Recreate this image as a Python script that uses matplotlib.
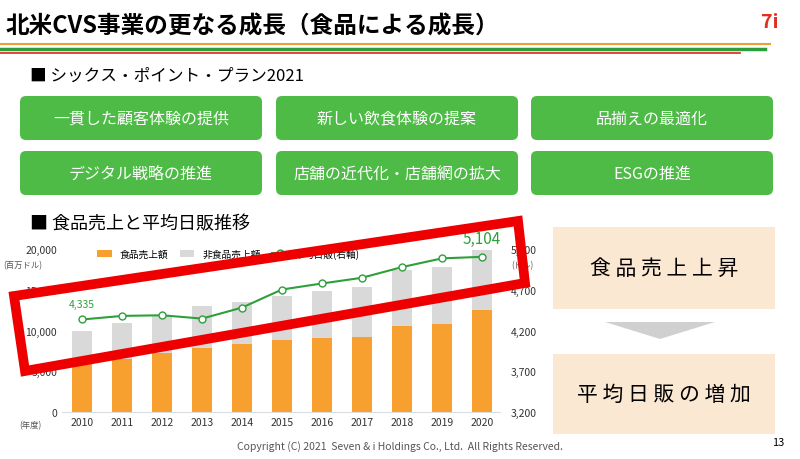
import matplotlib.pyplot as plt
from matplotlib.patches import FancyBboxPatch, Polygon, Rectangle

plt.rcParams["font.family"] = ["Noto Sans CJK JP", "DejaVu Sans"]

years = ["2010", "2011", "2012", "2013", "2014", "2015", "2016", "2017", "2018", "2019", "2020"]
food_sales = [5900, 6500, 7200, 7800, 8300, 8800, 9100, 9200, 10550, 10800, 12550]
nonfood_sales = [4100, 4400, 4600, 5200, 5200, 5450, 5800, 6100, 6850, 7000, 7350]
daily_sales = [4335, 4379, 4387, 4346, 4481, 4703, 4777, 4847, 4978, 5085, 5104]

plan_items = ["一貫した顧客体験の提供", "新しい飲食体験の提案", "品揃えの最適化",
              "デジタル戦略の推進", "店舗の近代化・店舗網の拡大", "ESGの推進"]

W, H = 800, 460
fig = plt.figure(figsize=(8, 4.6), dpi=100)
fig.patch.set_facecolor("white")

# slide overlay in pixel coords
bg = fig.add_axes([0, 0, 1, 1])
bg.set_xlim(0, W)
bg.set_ylim(H, 0)
bg.axis("off")

bg.text(6, 27, "北米CVS事業の更なる成長（食品による成長）", fontsize=17, fontweight="bold", va="center")
bg.plot([0, 770], [45, 45], color="#f0a030", lw=1.5)
bg.plot([0, 765], [50, 50], color="#2e9e3a", lw=2.5)
bg.plot([0, 740], [54, 54], color="#e02020", lw=1.2)
bg.text(770, 22, "7i", fontsize=14, fontweight="bold", color="#e03020", ha="center", va="center")

bg.text(30, 76, "■ シックス・ポイント・プラン2021", fontsize=12, va="center")
cols = [20, 276, 531]
rows = [97, 152]
for i, item in enumerate(plan_items):
    x = cols[i % 3]
    y = rows[i // 3]
    bg.add_patch(FancyBboxPatch((x, y), 242, 44, boxstyle="round,pad=0,rounding_size=6",
                                fc="#4dbb45", ec="none"))
    bg.text(x + 121, y + 22, item, color="white", fontsize=11.5, ha="center", va="center")

bg.text(30, 224, "■ 食品売上と平均日販推移", fontsize=13, va="center")

# right side boxes
bg.add_patch(Rectangle((553, 228), 222, 82, fc="#fbe8d2", ec="none"))
bg.text(664, 269, "食 品 売 上 上 昇", fontsize=15, ha="center", va="center")
bg.add_patch(Polygon([(605, 323), (715, 323), (660, 340)], fc="#d0d0d0", ec="none"))
bg.add_patch(Rectangle((553, 355), 222, 80, fc="#fbe8d2", ec="none"))
bg.text(664, 395, "平 均 日 販 の 増 加", fontsize=15, ha="center", va="center")

bg.text(400, 447, "Copyright (C) 2021  Seven & i Holdings Co., Ltd.  All Rights Reserved.",
        fontsize=7.5, color="#555555", ha="center", va="center")
bg.text(778, 443, "13", fontsize=8, ha="center", va="center")

# chart
ax = fig.add_axes([62 / W, 1 - 413 / H, (500 - 62) / W, 163 / H])
x = list(range(len(years)))
ax.bar(x, food_sales, width=0.5, color="#f7a030", label="食品売上額")
ax.bar(x, nonfood_sales, width=0.5, bottom=food_sales, color="#d9d9d9", label="非食品売上額")
ax.set_xlim(-0.5, 10.45)
ax.set_ylim(0, 20000)
ax.set_yticks([0, 5000, 10000, 15000, 20000])
ax.set_yticklabels(["0", "5,000", "10,000", "15,000", "20,000"])
ax.set_xticks(x)
ax.set_xticklabels(years)
ax.tick_params(length=0, labelsize=7.5, colors="#333333")
for s in ax.spines.values():
    s.set_visible(False)
ax.spines["bottom"].set_visible(True)
ax.spines["bottom"].set_color("#dddddd")

ax2 = ax.twinx()
ax2.plot(x, daily_sales, color="#2ea03a", lw=1.5, marker="o", ms=5,
         mfc="white", mec="#2ea03a", label="平均日販(右軸)")
ax2.set_ylim(3200, 5200)
ax2.set_yticks([3200, 3700, 4200, 4700, 5200])
ax2.set_yticklabels(["3,200", "3,700", "4,200", "4,700", "5,200"])
ax2.tick_params(length=0, labelsize=7.5, colors="#333333", pad=8)
for s in ax2.spines.values():
    s.set_visible(False)
ax2.annotate(f"{daily_sales[0]:,}", (0, daily_sales[0]), xytext=(0, 9), textcoords="offset points",
             ha="center", fontsize=7.5, color="#2ea03a")
ax2.annotate(f"{daily_sales[-1]:,}", (10, daily_sales[-1]), xytext=(0, 10), textcoords="offset points",
             ha="center", fontsize=11, color="#2ea03a")

h1, l1 = ax.get_legend_handles_labels()
h2, l2 = ax2.get_legend_handles_labels()
ax.legend(h1 + h2, l1 + l2, loc="upper left", bbox_to_anchor=(0.06, 1.06), ncol=3, frameon=False,
          fontsize=7, handlelength=1.5, columnspacing=1.2)

bg.text(42, 266, "(百万ドル)", fontsize=6, color="#555555", ha="right", va="center")
bg.text(42, 426, "(年度)", fontsize=6, color="#555555", ha="right", va="center")
bg.text(522, 266, "(ドル)", fontsize=6, color="#555555", ha="center", va="center")

# red highlight frame
top = fig.add_axes([0, 0, 1, 1])
top.set_xlim(0, W)
top.set_ylim(H, 0)
top.axis("off")
top.add_patch(Polygon([(14, 297), (518, 222), (525, 284), (25, 372)], closed=True,
                      fill=False, ec="#ee0000", lw=7))

fig.savefig("out.png", dpi=100)
